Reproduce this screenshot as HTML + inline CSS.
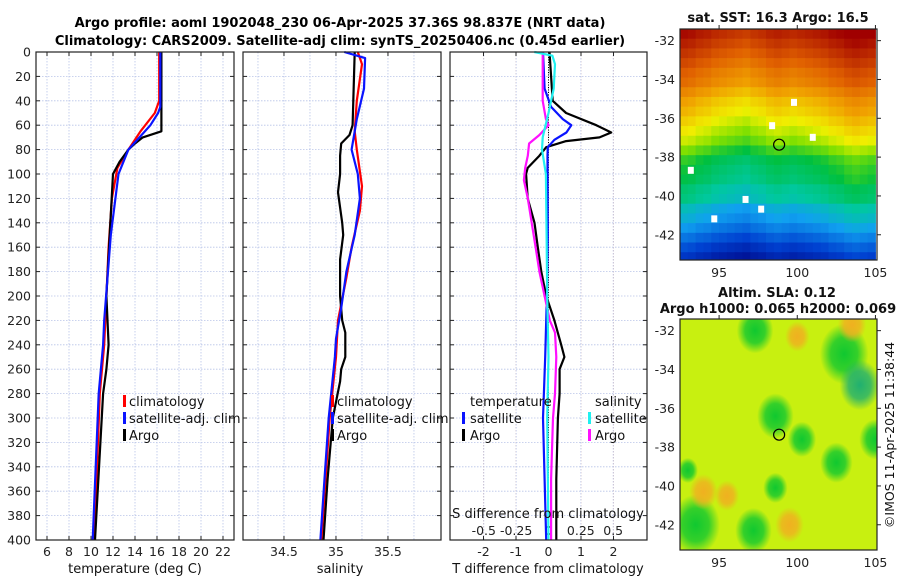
<!DOCTYPE html>
<html><head><meta charset="utf-8"><style>
html,body{margin:0;padding:0;background:#fff;}
svg{display:block;font-family:"DejaVu Sans","Liberation Sans",sans-serif;}
</style></head><body>
<svg id="fig" width="900" height="580" viewBox="0 0 900 580">
<text x="340" y="27" text-anchor="middle" font-size="13" font-weight="bold">Argo profile: aoml 1902048_230 06-Apr-2025 37.36S 98.837E (NRT data)</text>
<text x="340" y="45" text-anchor="middle" font-size="13" font-weight="bold">Climatology: CARS2009. Satellite-adj clim: synTS_20250406.nc (0.45d earlier)</text>
<g id="g"></g>
</svg>
<script>
// ---- data (depth in m) ----
const tDepthClim=[0,40,50,65,80,95,120,160,220,240,280,400];
const tClim=[16.2,16.2,15.8,14.5,13.4,12.4,11.9,11.6,11.3,11.2,10.8,10.3];
const tDepthSat=[0,45,50,60,80,100,150,220,240,280,400];
const tSat=[16.3,16.3,16.1,15.4,13.4,12.5,11.8,11.2,11.1,10.7,10.15];
const tDepthArgo=[0,65,70,75,80,90,100,150,200,220,240,260,280,400];
const tArgo=[16.4,16.4,14.7,14.0,13.4,12.6,12.0,11.7,11.4,11.5,11.6,11.4,11.1,10.36];

const sDepthClim=[0,10,40,65,80,110,130,160,185,220,250,300,400];
const sClim=[35.21,35.25,35.2,35.18,35.2,35.25,35.23,35.15,35.1,35.02,35.0,34.94,34.86];
const sDepthSat=[0,5,30,55,80,100,120,150,180,210,235,250,300,350,400];
const sSat=[35.08,35.28,35.27,35.2,35.15,35.21,35.23,35.18,35.1,35.05,35.0,34.99,34.93,34.89,34.85];
const sDepthArgo=[0,60,68,75,85,100,115,140,150,170,200,220,230,250,260,270,300,350,400];
const sArgo=[35.18,35.16,35.13,35.05,35.04,35.04,35.02,35.06,35.07,35.04,35.04,35.06,35.09,35.09,35.05,35.04,34.97,34.92,34.88];

const dDepthTA=[0,40,50,60,66,70,73,78,85,95,100,120,140,160,180,200,220,240,250,260,280,300,350,400];
const dTArgo=[0.03,0.13,0.54,1.47,1.93,1.57,0.54,-0.07,-0.28,-0.64,-0.69,-0.64,-0.43,-0.33,-0.22,-0.07,0.18,0.39,0.49,0.34,0.34,0.29,0.24,0.24];
const dDepthTS=[0,30,45,55,60,66,72,78,85,150,200,250,300,400];
const dTSat=[-0.17,-0.12,0.08,0.44,0.7,0.55,0.18,-0.02,-0.03,-0.02,-0.05,-0.1,-0.17,-0.07];
const dDepthSA=[0,40,55,60,68,75,85,95,105,120,140,160,180,200,220,230,250,280,300,350,400];
const dSArgo=[-0.045,-0.045,-0.02,0,-0.07,-0.15,-0.16,-0.18,-0.19,-0.16,-0.13,-0.1,-0.07,-0.03,0.01,0.05,0.06,0.05,0.035,0.02,0.02];
const dDepthSS=[0,3,10,30,50,70,80,100,150,200,250,300,400];
const dSSat=[-0.11,0.03,0.05,0.04,0,-0.045,-0.05,-0.02,-0.015,-0.01,0,-0.01,0];

const depthTicks=[0,20,40,60,80,100,120,140,160,180,200,220,240,260,280,300,320,340,360,380,400];
const tTicks=[6,8,10,12,14,16,18,20,22];
const sTicks=[34.5,35,35.5];
const dTTicks=[-2,-1,0,1,2];
const dSTicks=[-0.5,-0.25,0,0.25,0.5];
const dSTickLabels=["-0.5","-0.25","0","0.25","0.5"];

// SST map
const sstRowLat=[-31.5,-32,-32.5,-33,-33.5,-34,-34.5,-35,-35.5,-36,-36.5,-37,-37.5,-38,-38.5,-39,-39.5,-40,-40.5,-41,-41.5,-42,-42.5,-43];
const sstRowVal=[18.5,18.3,18.1,17.9,17.7,17.56,17.3,17.06,16.9,16.7,16.5,16.3,16.0,15.7,15.55,15.45,15.2,15.1,14.7,14.5,14.2,13.85,13.5,13.2];
const sstColLon=[92.75,93.25,93.75,94.25,94.75,95.25,95.75,96.25,96.75,97.25,97.75,98.25,98.75,99.25,99.75,100.25,100.75,101.25,101.75,102.25,102.75,103.25,103.75,104.25,104.75];
const sstColOff=[0.2,0.15,0.05,0,-0.1,-0.15,-0.2,-0.25,-0.3,-0.2,-0.15,-0.05,0,-0.05,-0.1,-0.05,0,0.05,0.1,0.2,0.25,0.35,0.4,0.35,0.3];
const sstGapsLon=[93,94.5,96.5,97.5,98.2,100.8,99.6];
const sstGapsLat=[-38.5,-41,-40,-40.5,-36.2,-36.8,-35];
// SLA map blobs
const slaLon=[97.3,103,104,98.6,100.3,102.5,98.6,93.5,97.2,93,105,95.5,100,103.5,99.5,94];
const slaLat=[-32,-33.2,-34.8,-36.4,-37.6,-38.8,-40.1,-42,-42.3,-39.2,-37.6,-40.5,-32.3,-31.7,-42,-40.3];
const slaR=[0.9,1.2,1.0,0.9,0.7,0.8,0.6,1.2,0.9,0.5,0.8,0.6,0.6,0.7,0.7,0.7];
const slaVal=[-0.15,-0.15,-0.2,-0.15,-0.12,-0.12,-0.12,-0.15,-0.15,-0.1,-0.12,0.06,0.1,0.1,0.06,0.1];

const argoLon=98.84, argoLat=-37.36;

// ---- helpers ----
const NS="http://www.w3.org/2000/svg";
const G=document.getElementById('g');
function mk(tag,attrs,parent){const e=document.createElementNS(NS,tag);for(const k in attrs)e.setAttribute(k,attrs[k]);(parent||G).appendChild(e);return e;}
const yTop=52,yBot=540;
const yD=d=>yTop+(d/400)*(yBot-yTop);
function lin(d0,d1,p0,p1){return v=>p0+(v-d0)/(d1-d0)*(p1-p0);}

const panels=[
 {x0:36,x1:234,sx:lin(5,23,36,234),name:'temperature-panel'},
 {x0:243,x1:441,sx:lin(34.106,36.01,243,441),name:'salinity-panel'},
 {x0:450,x1:647,sx:lin(-3.03,3.03,450,647),name:'difference-panel'}
];
const sxS=lin(-0.7612,0.7612,450,647);

function grid(p,xs,col){
  xs.forEach(v=>{const l=mk('line',{x1:p.sx(v),x2:p.sx(v),y1:yTop,y2:yBot,stroke:col,'stroke-width':0.8,'stroke-dasharray':'1.5,1.5'});
  
  });
}
panels.forEach((p,i)=>{
  const r=mk('rect',{x:p.x0,y:yTop,width:p.x1-p.x0,height:yBot-yTop,fill:'#fff'});
  
  
  depthTicks.forEach(d=>{
    const l=mk('line',{x1:p.x0,x2:p.x1,y1:yD(d),y2:yD(d),stroke:'#b8c4e8','stroke-width':0.8,'stroke-dasharray':'1.5,1.5'});
    
    
    const a=mk('line',{x1:p.x0,x2:p.x0+4,y1:yD(d),y2:yD(d),stroke:'#222'});
    
    
    const b=mk('line',{x1:p.x1-4,x2:p.x1,y1:yD(d),y2:yD(d),stroke:'#222'});
    
    
    if(i===0){const t=mk('text',{x:31,y:yD(d)+4.5,'text-anchor':'end','font-size':12.5,fill:'#222'});t.textContent=d;
      
      }
  });
});
grid(panels[0],tTicks,'#b8c4e8');
grid(panels[1],[34.25,34.5,34.75,35,35.25,35.5,35.75],'#b8c4e8');
grid(panels[2],dTTicks,'#e8c0b0');
dSTicks.forEach(v=>{const l=mk('line',{x1:sxS(v),x2:sxS(v),y1:yTop,y2:yBot,stroke:'#b8c4e8','stroke-width':0.8,'stroke-dasharray':'1.5,1.5'});
  
  });

function xticks(p,vals,labels,nameT){
  vals.forEach((v,k)=>{
    const a=mk('line',{x1:p.sx(v),x2:p.sx(v),y1:yBot-4,y2:yBot,stroke:'#222'});
    
    
    const b=mk('line',{x1:p.sx(v),x2:p.sx(v),y1:yTop,y2:yTop+4,stroke:'#222'});
    
    
    const t=mk('text',{x:p.sx(v),y:556,'text-anchor':'middle','font-size':12.5,fill:'#222'});t.textContent=labels[k];
    
    
  });
}
xticks(panels[0],tTicks,tTicks,'temperature-tick-label');
xticks(panels[1],sTicks,sTicks,'salinity-tick-label');
xticks(panels[2],dTTicks,dTTicks,'t-diff-tick-label');
dSTicks.forEach((v,k)=>{const t=mk('text',{x:sxS(v),y:535,'text-anchor':'middle','font-size':12.5,fill:'#222'});t.textContent=dSTickLabels[k];
  
  });
const z=mk('line',{x1:panels[2].sx(0),x2:panels[2].sx(0),y1:yTop,y2:yBot,stroke:'#000','stroke-width':1,'stroke-dasharray':'1,1.5'});



function series(sx,depths,vals,col,name){
  const pts=depths.map((d,k)=>sx(vals[k]).toFixed(1)+','+yD(d).toFixed(1)).join(' ');
  const l=mk('polyline',{points:pts,fill:'none',stroke:col,'stroke-width':2.2,'stroke-linejoin':'round'});
  
  
}
series(panels[0].sx,tDepthClim,tClim,'#ff0000','temperature-climatology-line');
series(panels[0].sx,tDepthArgo,tArgo,'#000','temperature-argo-line');
series(panels[0].sx,tDepthSat,tSat,'#0a14ff','temperature-satellite-line');
series(panels[1].sx,sDepthClim,sClim,'#ff0000','salinity-climatology-line');
series(panels[1].sx,sDepthArgo,sArgo,'#000','salinity-argo-line');
series(panels[1].sx,sDepthSat,sSat,'#0a14ff','salinity-satellite-line');
series(panels[2].sx,dDepthTA,dTArgo,'#000','t-diff-argo-line');
series(panels[2].sx,dDepthTS,dTSat,'#0a14ff','t-diff-satellite-line');
series(sxS,dDepthSA,dSArgo,'#ff10ff','s-diff-argo-line');
series(sxS,dDepthSS,dSSat,'#20f0f0','s-diff-satellite-line');

panels.forEach(p=>{const r=mk('rect',{x:p.x0,y:yTop,width:p.x1-p.x0,height:yBot-yTop,fill:'none',stroke:'#222','stroke-width':1.2});
  
  });

function txt(x,y,s,name,opts){const t=mk('text',Object.assign({x:x,y:y,'font-size':13,fill:'#111'},opts||{}));t.textContent=s;
  
  return t;}
txt(135,573,'temperature (deg C)','x-axis-title-temperature',{'text-anchor':'middle'});
txt(340,573,'salinity','x-axis-title-salinity',{'text-anchor':'middle'});
txt(548,573,'T difference from climatology','x-axis-title-t-diff',{'text-anchor':'middle'});
txt(548,518,'S difference from climatology','s-diff-axis-title',{'text-anchor':'middle'});

function legMark(x,y,col,name){const r=mk('rect',{x:x,y:y-6,width:3,height:12,fill:col});
  
  }
[[123,129],[331,337]].forEach(([mx,tx],i)=>{
  legMark(mx,401,'#ff0000','legend-climatology-mark');
  txt(tx,406,'climatology','legend-climatology');
  legMark(mx,418,'#0a14ff','legend-satellite-mark');
  txt(tx,423,'satellite-adj. clim','legend-satellite-adj');
  legMark(mx,435,'#000','legend-argo-mark');
  txt(tx,440,'Argo','legend-argo');
});
txt(470,406,'temperature','legend-temperature-header');
legMark(462,418,'#0a14ff','legend-t-satellite-mark');
txt(470,423,'satellite','legend-t-satellite');
legMark(462,435,'#000','legend-t-argo-mark');
txt(470,440,'Argo','legend-t-argo');
txt(595,406,'salinity','legend-salinity-header');
legMark(588,418,'#20f0f0','legend-s-satellite-mark');
txt(595,423,'satellite','legend-s-satellite');
legMark(588,435,'#ff10ff','legend-s-argo-mark');
txt(595,440,'Argo','legend-s-argo');

// ---- maps ----
const mx=lin(92.5,105.1,680,877);
const cmStops=[[0,[0,0,128]],[0.15,[0,64,208]],[0.3,[16,160,240]],[0.4,[0,200,160]],[0.5,[0,192,64]],[0.58,[128,224,0]],[0.65,[240,240,0]],[0.75,[240,160,0]],[0.85,[224,96,0]],[1,[160,0,0]]];
function cmap(t){t=Math.max(0,Math.min(1,t));
  for(let i=1;i<cmStops.length;i++){if(t<=cmStops[i][0]){const [a,ca]=cmStops[i-1],[b,cb]=cmStops[i];const f=(t-a)/(b-a);
    return 'rgb('+ca.map((c,k)=>Math.round(c+(cb[k]-c)*f)).join(',')+')';}}
  return 'rgb(160,0,0)';}
const my1=lin(-31.4,-43.3,29,260), my2=lin(-31.4,-43.3,319,550);
const sstG=mk('g',{});


sstRowLat.forEach((la,r)=>{sstColLon.forEach((lo,c)=>{
  const v=sstRowVal[r]+sstColOff[c];
  const x=Math.max(680,mx(lo-0.25)),y=Math.max(29,my1(la+0.1));
  const cell=mk('rect',{x:x,y:y,width:Math.min(877,mx(lo+0.25))-x+0.5,height:Math.min(260,my1(la-0.4))-y+0.5,fill:cmap((v-12.6)/6.2)},sstG);
  
  
});});
sstGapsLon.forEach((lo,k)=>{const c=mk('rect',{x:mx(lo),y:my1(sstGapsLat[k]),width:6,height:7,fill:'#fff'});
  
  });
const defs=mk('defs',{});
const clip=mk('clipPath',{id:'slaclip'},defs);mk('rect',{x:680,y:319,width:197,height:231},clip);
const slaBg=mk('rect',{x:680,y:319,width:197,height:231,fill:'#c8f010'});


const slaG=mk('g',{'clip-path':'url(#slaclip)'});


slaLon.forEach((lo,k)=>{
  const id='gr'+k, col=slaVal[k]<0?(slaVal[k]<-0.17?'#20b070':'#10c830'):'#f0b020';
  const rg=mk('radialGradient',{id:id},defs);
  mk('stop',{offset:'0%','stop-color':col,'stop-opacity':1},rg);
  mk('stop',{offset:'55%','stop-color':col,'stop-opacity':0.8},rg);
  mk('stop',{offset:'100%','stop-color':col,'stop-opacity':0},rg);
  const e=mk('ellipse',{cx:mx(lo),cy:my2(slaLat[k]),rx:slaR[k]*15.6*1.3,ry:slaR[k]*19.4*1.3,fill:`url(#${id})`},slaG);
  
  
});
[[29,260,my1,'sst-map'],[319,550,my2,'sla-map']].forEach(([y0,y1,my,nm])=>{
  const f=mk('rect',{x:680,y:y0,width:197,height:y1-y0,fill:'none',stroke:'#222','stroke-width':1.2});
  
  
  [-32,-34,-36,-38,-40,-42].forEach(la=>{
    txt(675,my(la)+4.5,la,nm+'-lat-label',{'text-anchor':'end','font-size':12.5,fill:'#222'});
    const k=mk('line',{x1:877,x2:881,y1:my(la),y2:my(la),stroke:'#222'});
    
    
  });
  [95,100,105].forEach(lo=>{txt(mx(lo),y1+17,lo,nm+'-lon-label',{'text-anchor':'middle','font-size':12.5,fill:'#222'});
    const k=mk('line',{x1:mx(lo),x2:mx(lo),y1:y0-4,y2:y0,stroke:'#222'});
    
    });
  const c=mk('circle',{cx:mx(argoLon),cy:my(argoLat),r:5.5,fill:'none',stroke:'#000','stroke-width':1.2});
  
  
});
txt(778,22,'sat. SST: 16.3 Argo: 16.5','sst-map-title',{'text-anchor':'middle','font-weight':'bold'});
txt(777,297,'Altim. SLA: 0.12','sla-map-title',{'text-anchor':'middle','font-weight':'bold'});
txt(778,313,'Argo h1000: 0.065 h2000: 0.069','sla-map-subtitle',{'text-anchor':'middle','font-weight':'bold'});
txt(0,0,'©IMOS 11-Apr-2025 11:38:44','timestamp-credit',{'text-anchor':'middle','transform':'translate(894,435) rotate(-90)','font-size':12.5});
</script>
</body></html>
